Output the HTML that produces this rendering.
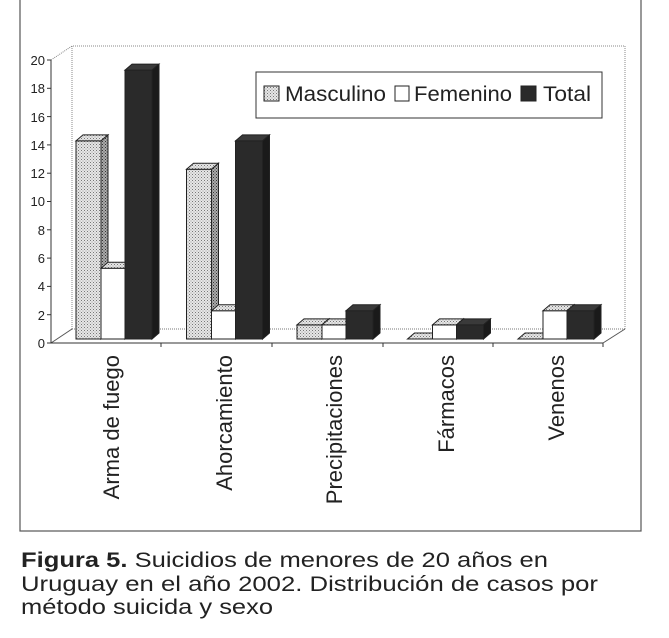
<!DOCTYPE html>
<html><head><meta charset="utf-8"><style>
html,body{margin:0;padding:0;background:#fff;}
svg{display:block;font-family:"Liberation Sans",Arial,sans-serif;}
</style></head><body>
<svg width="669" height="638" viewBox="0 0 669 638" xmlns="http://www.w3.org/2000/svg">
<defs>
<pattern id="dm" width="3" height="3" patternUnits="userSpaceOnUse"><rect width="3" height="3" fill="#e6e6e6"/><rect width="1" height="1" fill="#777"/><rect x="1.5" y="1.5" width="1" height="1" fill="#999"/></pattern>
<pattern id="ds" width="3" height="3" patternUnits="userSpaceOnUse"><rect width="3" height="3" fill="#aaa"/><rect width="1" height="1" fill="#333"/><rect x="1.5" y="1.5" width="1" height="1" fill="#444"/></pattern>
</defs>
<rect x="20" y="-2" width="621" height="533" fill="#fff" stroke="#555" stroke-width="1.2"/>
<polyline points="72,329 72,46 625,46 625,329" fill="none" stroke="#888" stroke-dasharray="1,1"/>
<line x1="72" y1="329" x2="625" y2="329" stroke="#777" stroke-dasharray="1,1"/>
<line x1="51" y1="60" x2="72" y2="46" stroke="#888" stroke-dasharray="1,1"/>
<line x1="51" y1="343" x2="72" y2="329" stroke="#555"/>
<line x1="603" y1="343" x2="625" y2="329" stroke="#555"/>
<line x1="51" y1="60" x2="51" y2="343" stroke="#333"/>
<line x1="51" y1="343" x2="603" y2="343" stroke="#333"/>
<g stroke="#333">
<line x1="47" y1="343" x2="51" y2="343"/><line x1="47" y1="314.7" x2="51" y2="314.7"/><line x1="47" y1="286.4" x2="51" y2="286.4"/><line x1="47" y1="258.1" x2="51" y2="258.1"/><line x1="47" y1="229.8" x2="51" y2="229.8"/><line x1="47" y1="201.5" x2="51" y2="201.5"/><line x1="47" y1="173.2" x2="51" y2="173.2"/><line x1="47" y1="144.9" x2="51" y2="144.9"/><line x1="47" y1="116.6" x2="51" y2="116.6"/><line x1="47" y1="88.3" x2="51" y2="88.3"/><line x1="47" y1="60" x2="51" y2="60"/>
<line x1="161" y1="343" x2="161" y2="347"/><line x1="272" y1="343" x2="272" y2="347"/><line x1="383" y1="343" x2="383" y2="347"/><line x1="493" y1="343" x2="493" y2="347"/><line x1="603" y1="343" x2="603" y2="347"/>
</g>
<g font-size="13" text-anchor="end" fill="#222">
<text x="45" y="348">0</text><text x="45" y="320">2</text><text x="45" y="291">4</text><text x="45" y="263">6</text><text x="45" y="235">8</text><text x="45" y="206">10</text><text x="45" y="178">12</text><text x="45" y="150">14</text><text x="45" y="122">16</text><text x="45" y="93">18</text><text x="45" y="65">20</text>
</g>
<g stroke="#222" stroke-width="1" id="bars"></g>
<rect x="256" y="72" width="346" height="46" fill="#fff" stroke="#333"/>
<rect x="264" y="86" width="15" height="15" fill="url(#dm)" stroke="#222"/>
<text x="285" y="101" font-size="21" fill="#222" textLength="101" lengthAdjust="spacingAndGlyphs">Masculino</text>
<rect x="395" y="86" width="14" height="15" fill="#fff" stroke="#222"/>
<text x="414" y="101" font-size="21" fill="#222" textLength="98" lengthAdjust="spacingAndGlyphs">Femenino</text>
<rect x="521" y="86" width="15" height="15" fill="#2a2a2a" stroke="#222"/>
<text x="543" y="101" font-size="21" fill="#222" textLength="48" lengthAdjust="spacingAndGlyphs">Total</text>
<g font-size="22" text-anchor="end" fill="#222">
<text transform="translate(119,355) rotate(-90)">Arma de fuego</text>
<text transform="translate(232,355) rotate(-90)">Ahorcamiento</text>
<text transform="translate(342,355) rotate(-90)">Precipitaciones</text>
<text transform="translate(454,355) rotate(-90)">Fármacos</text>
<text transform="translate(564,355) rotate(-90)">Venenos</text>
</g>
<g font-size="21.5" fill="#222">
<text x="21" y="567" textLength="527" lengthAdjust="spacingAndGlyphs"><tspan font-weight="bold">Figura 5.</tspan> Suicidios de menores de 20 años en</text>
<text x="21" y="591" textLength="577" lengthAdjust="spacingAndGlyphs">Uruguay en el año 2002. Distribución de casos por</text>
<text x="21" y="614" textLength="252" lengthAdjust="spacingAndGlyphs">método suicida y sexo</text>
</g>
<script>
var g=document.getElementById('bars'),NS='http://www.w3.org/2000/svg';
function p(pts,f){var e=document.createElementNS(NS,'polygon');e.setAttribute('points',pts);e.setAttribute('fill',f);g.appendChild(e);}
var base=339,s=14.15,dx=7,dy=6;
function bar(x,w,v,front,top,side){var t=base-v*s;
p(x+','+t+' '+(x+w)+','+t+' '+(x+w)+','+base+' '+x+','+base,front);
p(x+','+t+' '+(x+dx)+','+(t-dy)+' '+(x+w+dx)+','+(t-dy)+' '+(x+w)+','+t,top);
p((x+w)+','+t+' '+(x+w+dx)+','+(t-dy)+' '+(x+w+dx)+','+(base-dy)+' '+(x+w)+','+base,side);}
var d=[[14,5,19],[12,2,14],[1,1,2],[0,1,1],[0,2,2]];
for(var i=0;i<5;i++){var x=76+i*110.5;
bar(x,25,d[i][0],'url(#dm)','url(#dm)','url(#ds)');
bar(x+25,24,d[i][1],'#fff','url(#dm)','#fff');
bar(x+49,27,d[i][2],'#2a2a2a','#3a3a3a','#1a1a1a');}
</script>
</svg>
</body></html>
